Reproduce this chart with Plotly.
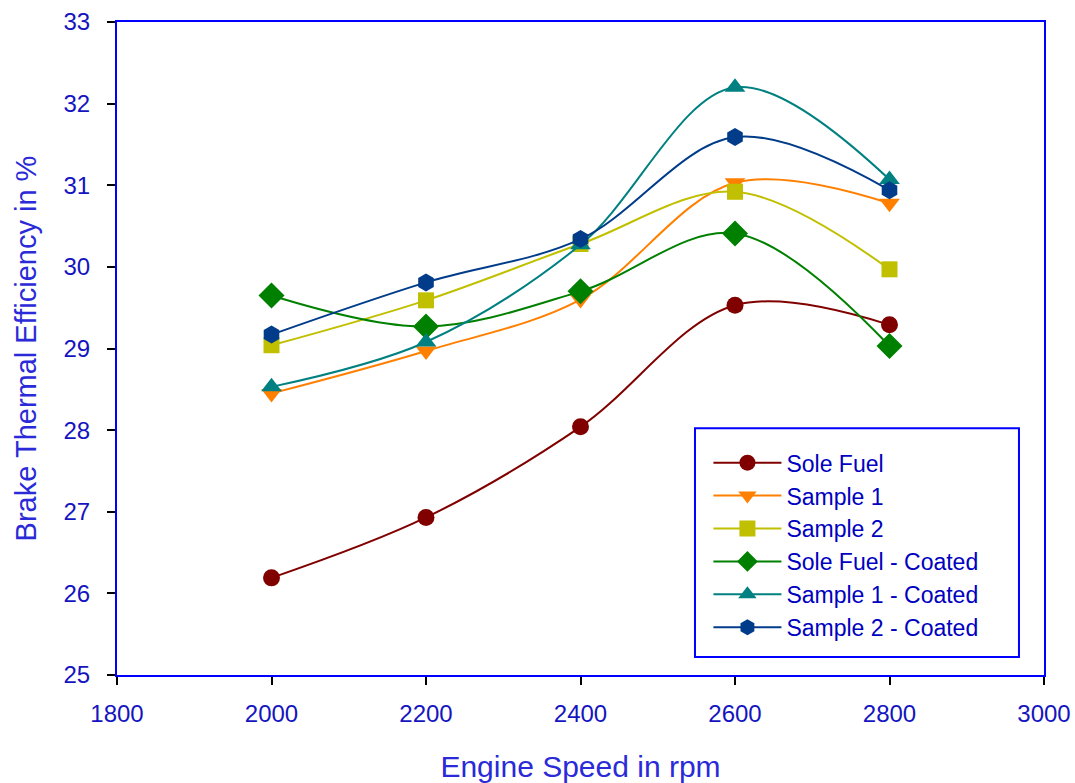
import plotly.graph_objects as go

speed = [2000, 2200, 2400, 2600, 2800]
sole_fuel = [26.19, 26.93, 28.04, 29.53, 29.29]
sample1 = [28.45, 28.97, 29.60, 31.03, 30.78]
sample2 = [29.04, 29.59, 30.28, 30.92, 29.97]
sole_fuel_coated = [29.65, 29.27, 29.70, 30.41, 29.03]
sample1_coated = [28.53, 29.08, 30.27, 32.20, 31.07]
sample2_coated = [29.17, 29.81, 30.34, 31.59, 30.94]

series = [
    ("Sole Fuel", sole_fuel, "#800000", "circle", 17),
    ("Sample 1", sample1, "#FF8000", "triangle-down", 18),
    ("Sample 2", sample2, "#C0C000", "square", 16),
    ("Sole Fuel - Coated", sole_fuel_coated, "#008000", "diamond", 20),
    ("Sample 1 - Coated", sample1_coated, "#008080", "triangle-up", 18),
    ("Sample 2 - Coated", sample2_coated, "#003C8A", "hexagon", 18),
]

fig = go.Figure()
for name, vals, col, sym, sz in series:
    fig.add_trace(go.Scatter(
        x=speed, y=vals, name=name, mode="lines+markers",
        line=dict(color=col, width=2, shape="spline", smoothing=1),
        marker=dict(color=col, symbol=sym, size=sz, line=dict(width=0)),
    ))

tick_font = dict(family="Liberation Sans, Arial", size=24, color="#1414C0")
title_color = "#2A2AD8"

fig.update_layout(
    width=1075, height=783,
    margin=dict(l=117, r=31, t=22, b=108),
    paper_bgcolor="white", plot_bgcolor="white",
    font=dict(family="Liberation Sans, Arial"),
    showlegend=True,
    legend=dict(
        x=0.638, y=0.358, xanchor="left", yanchor="top",
        bgcolor="rgba(0,0,0,0)", borderwidth=0, itemwidth=68,
        font=dict(family="Liberation Sans, Arial", size=23, color="#0000C0"),
        tracegroupgap=0,
    ),
    shapes=[dict(type="rect", xref="paper", yref="paper",
                 x0=0.6235, x1=0.973, y0=0.0276, y1=0.378,
                 line=dict(color="#0000FF", width=2), fillcolor="rgba(0,0,0,0)")],
)

fig.update_xaxes(
    range=[1800, 3000], dtick=200, tick0=1800, automargin=False,
    showline=True, mirror=True, linecolor="#0000FF", linewidth=2,
    ticks="outside", ticklen=8, tickcolor="black", tickwidth=2,
    ticklabelstandoff=8,
    showgrid=False, zeroline=False, tickfont=tick_font,
    title=dict(text="Engine Speed in rpm", font=dict(size=30, color=title_color), standoff=31),
)
fig.update_yaxes(
    range=[25, 33], dtick=1, automargin=False,
    showline=True, mirror=True, linecolor="#0000FF", linewidth=2,
    ticks="outside", ticklen=8, tickcolor="black", tickwidth=2,
    ticklabelstandoff=12,
    showgrid=False, zeroline=False, tickfont=tick_font,
    title=dict(text="Brake Thermal Efficiency in %", font=dict(size=29, color=title_color), standoff=18),
)

fig.write_html("out.html")
